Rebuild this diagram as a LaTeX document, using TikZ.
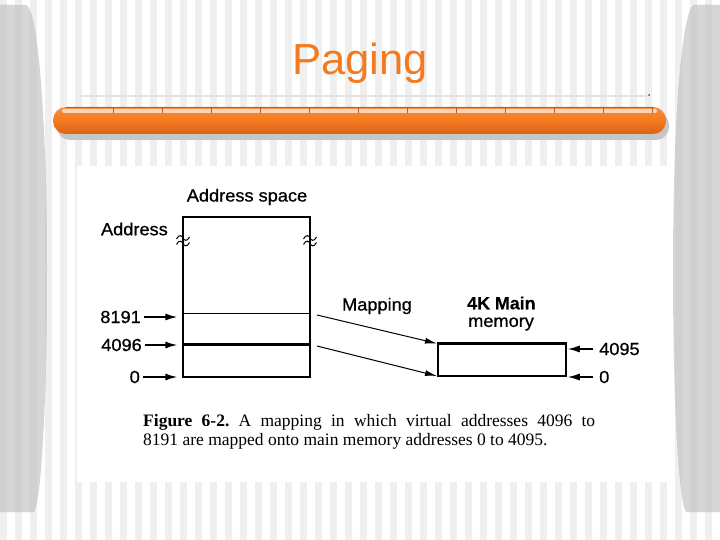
\documentclass[tikz,border=0pt]{standalone}
\usepackage{fontspec}
\setmainfont{Liberation Serif}
\newfontfamily\figfont[FakeStretch=1.04,FakeBold=0.7]{Liberation Sans}
\newfontfamily\figbold[FakeStretch=1.02,FakeBold=0.4]{Liberation Sans Bold}
\newfontfamily\titlefont{Liberation Sans}
\usetikzlibrary{arrows.meta}
\definecolor{stripe}{HTML}{EFEFEF}
\definecolor{panel}{HTML}{D6D6D6}
\definecolor{panelstripe}{HTML}{D0D0D0}
\definecolor{orangetitle}{HTML}{F47A20}
\definecolor{bartop}{HTML}{F88C3C}
\definecolor{barmid}{HTML}{F47A1E}
\definecolor{barbot}{HTML}{D9621A}
\definecolor{barhi}{HTML}{FCD3B6}
\definecolor{bartick}{HTML}{B0602C}
\tikzset{
  lbl/.style={font=\figfont\fontsize{17.5}{20}\selectfont, inner sep=0pt},
  boxline/.style={draw=black, line width=1.5pt},
  arr/.style={-{Latex[length=12pt,width=7pt]}, line width=1.3pt},
  maparr/.style={-{Latex[length=12pt,width=6pt]}, line width=1pt},
  squig/.style={line width=1pt},
}
\begin{document}
\begin{tikzpicture}[x=1pt,y=-1pt]
\useasboundingbox (0,0) rectangle (720,540);
\fill[white] (0,0) rectangle (720,540);
% background stripes
\foreach \i in {0,...,47} {
  \fill[stripe] (15*\i,0) rectangle (15*\i+7,540);
}
% side panels
\begin{scope}
\clip (0,5) -- (26,5) .. controls (38,8) and (47,120) .. (47,270) .. controls (47,420) and (40,505) .. (34,512) -- (0,512) -- cycle;
\fill[panel] (0,0) rectangle (60,540);
\foreach \i in {0,...,3} { \fill[panelstripe] (15*\i,0) rectangle (15*\i+7,540); }
\end{scope}
\begin{scope}
\clip (720,5) -- (694,5) .. controls (682,8) and (673,120) .. (673,270) .. controls (673,420) and (680,505) .. (686,512) -- (720,512) -- cycle;
\fill[panel] (660,0) rectangle (720,540);
\foreach \i in {44,...,47} { \fill[panelstripe] (15*\i,0) rectangle (15*\i+7,540); }
\end{scope}
% title
\node[font=\titlefont\fontsize{43.5}{50}\selectfont, text=orangetitle, anchor=base, inner sep=0pt] (title) at (360,75) {Paging};
% thin line
\draw[gray!22, line width=1.5pt] (80,96) -- (647,96);
\fill[gray!60!black] (649,95) circle (1);
% orange bar
\fill[gray!45, rounded corners=13pt] (57,112) rectangle (669,140);
\shade[top color=bartop, bottom color=barbot, middle color=barmid, rounded corners=13pt] (53,107) rectangle (666,134);
\fill[barhi, rounded corners=2pt] (62,109) rectangle (657,113);
\draw[bartick, line width=0.8pt] (66,107.5) -- (654,107.5);
\foreach \i in {0,...,11} { \draw[bartick, line width=0.6pt] (113+49*\i,107.5) -- (113+49*\i,113); }
% figure area
\fill[white] (77,166) rectangle (671,482);

% ---------- figure ----------
\node[lbl] (asp) at (247,197) {Address space};
\node[lbl, anchor=east] (addr) at (168,229) {Address};
\node[boxline, minimum width=127pt, minimum height=160pt, inner sep=0pt] (vbox) at (246.5,297) {};
\draw[line width=1.3pt] (vbox.west |- 0,313.5) -- (vbox.east |- 0,313.5);
\draw[line width=2.2pt] (vbox.west |- 0,344.5) -- (vbox.east |- 0,344.5);
% break marks
\foreach \xx in {183,310} {
  \foreach \yy in {238,243.5} {
    \draw[squig] (\xx-6.5,\yy+1) .. controls (\xx-4,\yy-4) and (\xx-1,\yy-2.5) .. (\xx,\yy) .. controls (\xx+1,\yy+2.5) and (\xx+4,\yy+4) .. (\xx+6.5,\yy-1);
  }
}
% left labels and arrows
\node[lbl, anchor=east] (a8191) at (141,317) {8191};
\node[lbl, anchor=east] (a4096) at (142,345) {4096};
\node[lbl, anchor=east] (a0) at (140,377) {0};
\draw[arr, shorten <=3pt, shorten >=5pt] (a8191.east) -- (a8191.east -| vbox.west);
\draw[arr, shorten <=3pt, shorten >=5pt] (a4096.east) -- (a4096.east -| vbox.west);
\draw[arr, shorten <=3pt, shorten >=5pt] (a0.east) -- (a0.east -| vbox.west);
% main memory
\node[lbl, font=\figbold\fontsize{17.5}{20}\selectfont, anchor=west] (mm1) at (467,303) {4K Main};
\node[lbl, anchor=west] (mm2) at (468,324) {memory};
\node[boxline, minimum width=128pt, minimum height=32pt, inner sep=0pt] (mbox) at (502,360) {};
\draw[line width=2.2pt] (mbox.north west) -- (mbox.north east);
\node[lbl, anchor=west] (r4095) at (599,349) {4095};
\node[lbl, anchor=west] (r0) at (599,377) {0};
\draw[arr, shorten <=6pt, shorten >=1pt] (r4095.west) -- (r4095.west -| mbox.east);
\draw[arr, shorten <=6pt, shorten >=1pt] (r0.west) -- (r0.west -| mbox.east);
% mapping
\node[lbl] (map) at (377,306) {Mapping};
\coordinate (m1s) at (317,315);
\coordinate (m1e) at (437,343.5);
\coordinate (m2s) at (317,346);
\coordinate (m2e) at (437,376);
\draw[maparr] (m1s) -- (m1e);
\draw[maparr] (m2s) -- (m2e);
% caption
\node[anchor=base west, inner sep=0pt, font=\fontsize{17.5}{20}\selectfont] (cap1) at (143,426)
  {\frenchspacing\makebox[452pt][s]{\textbf{Figure 6-2.} A mapping in which virtual addresses 4096 to}};
\node[anchor=base west, inner sep=0pt, font=\fontsize{17.5}{20}\selectfont] (cap2) at (143,445)
  {\frenchspacing 8191 are mapped onto main memory addresses 0 to 4095.};
\end{tikzpicture}
\end{document}
